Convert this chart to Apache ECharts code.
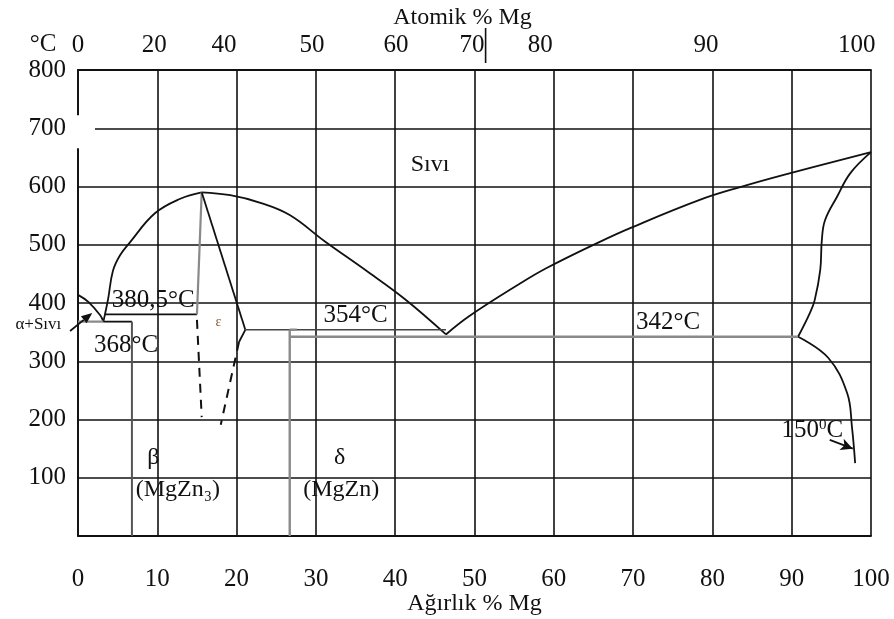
<!DOCTYPE html>
<html>
<head>
<meta charset="utf-8">
<script src="https://cdn.jsdelivr.net/npm/echarts@6/dist/echarts.min.js"></script>
<style>
html,body{margin:0;padding:0;background:#fff;}
#chart{width:894px;height:619px;}
</style>
</head>
<body>
<div id="chart"></div>
<script>
// Zn–Mg phase diagram: temperature (°C) vs weight % Mg, atomic % Mg on top

// top axis: atomic % labels and the weight % where each one sits
const atomicLabels = [0, 20, 40, 50, 60, 70, 80, 90, 100];
const atomicAtWeight = [0, 9.6, 18.4, 29.5, 40.1, 49.7, 58.3, 79.2, 98.2];
const atomicMarkWeight = 51.4;

// liquidus / solidus / solvus curves  [weight % Mg, °C]
const znLiquidus = [[0, 414], [1.3, 402], [2.8, 379], [3.2, 368]];
const mgzn2LeftLiquidus = [[3.2, 368], [3.4, 380.5], [3.8, 407], [4.4, 455], [5.3, 482], [6.6, 505], [9.7, 554], [12.9, 579], [15.6, 590]];
const mgzn2RightLiquidus = [[15.6, 590], [19.2, 585], [23, 572], [26.7, 551], [31.1, 506], [36.2, 457], [41.2, 407], [46.4, 346]];
const mgLiquidus = [[46.4, 346], [49.4, 378], [55.7, 433], [59.1, 460], [65.8, 505], [69.7, 529], [78.4, 577], [83.5, 599], [89, 620], [100, 659]];
const mgSolidus = [[100, 659], [97.4, 623], [95.7, 582], [94.2, 542], [93.8, 508], [93.6, 457], [92.9, 405], [92.3, 383], [90.8, 342]];
const mgSolvus = [[90.8, 342], [94.6, 306], [97, 245], [97.6, 187], [98, 125]];

// invariant lines and phase boundaries
const eutectic368Left = [[0, 368], [3.2, 368]];
const eutectic368Right = [[3.2, 368], [6.8, 368]];
const mg2zn11Line = [[6.8, 368], [6.8, 0]];
const peritectic380 = [[3.4, 380.5], [15, 380.5]];
const mgzn2Left = [[15, 380.5], [15.6, 590]];
const mgzn2Right = [[15.6, 590], [21.1, 354]];
const mgzn2RightLow = [[21.1, 354], [20.3, 333]];
const mgzn2DashLeft = [[15, 371], [15.6, 204]];
const mgzn2DashRight = [[20.3, 333], [18, 191]];
const eutectic354 = [[21.1, 354], [46.4, 354]];
const mgznLine = [[26.7, 354], [26.7, 0]];
const mgznCap = [[26.7, 354], [27.6, 354]];
const eutectic342 = [[26.7, 342], [90.8, 342]];

// arrows: [from, to]
const arrowAlpha = [[-1, 352], [1.8, 383]];
const arrow150 = [[94.8, 165], [97.7, 150]];

const FONT = '"Liberation Serif", "DejaVu Serif", serif';
const INK = '#111';
const GRAYLINE = '#8a8a8a';
const TICK_SIZE = 25;

function curve(data, opts) {
  return Object.assign({
    type: 'line', data: data, symbol: 'none', silent: true,
    lineStyle: { color: INK, width: 1.8 }, z: 5
  }, opts || {});
}

function label(pos, text, size, extra) {
  return {
    value: pos,
    label: Object.assign({
      show: true, formatter: text, position: 'inside', opacity: 1,
      fontFamily: FONT, fontSize: size, color: INK,
      textBorderWidth: 0, textBorderColor: 'transparent'
    }, extra || {})
  };
}

const chart = echarts.init(document.getElementById('chart'), null, { renderer: 'canvas' });

const option = {
  animation: false,
  backgroundColor: '#fff',
  grid: { left: 78, right: 23, top: 70, bottom: 83, containLabel: false, outerBoundsMode: 'none' },
  xAxis: [
    {
      type: 'value', position: 'bottom', min: 0, max: 100, interval: 10,
      name: 'Ağırlık % Mg', nameLocation: 'middle', nameGap: 56, nameMoveOverlap: false,
      nameTextStyle: { fontFamily: FONT, fontSize: 24, color: INK },
      axisLine: { show: true, lineStyle: { color: INK, width: 1.8 } },
      axisTick: { show: false },
      axisLabel: { fontFamily: FONT, fontSize: TICK_SIZE, color: INK, margin: 31 },
      splitLine: { show: true, lineStyle: { color: INK, width: 1.6 } }
    },
    {
      type: 'value', position: 'top', min: 0, max: 100,
      name: 'Atomik % Mg', nameLocation: 'middle', nameGap: 40, nameMoveOverlap: false,
      nameTextStyle: { fontFamily: FONT, fontSize: 24, color: INK, padding: [0, 24, 0, 0] },
      axisLine: { show: true, onZero: false, lineStyle: { color: INK, width: 1.8 } },
      axisTick: { show: false },
      axisLabel: {
        fontFamily: FONT, fontSize: TICK_SIZE, color: INK, margin: 12,
        customValues: atomicAtWeight,
        formatter: function (v) {
          let best = 0;
          atomicAtWeight.forEach(function (w, i) {
            if (Math.abs(w - v) < Math.abs(atomicAtWeight[best] - v)) best = i;
          });
          return String(atomicLabels[best]);
        }
      },
      splitLine: { show: false }
    }
  ],
  yAxis: {
    type: 'value', min: 0, max: 800, interval: 100,
    axisLine: { show: true, lineStyle: { color: INK, width: 1.8 } },
    axisTick: { show: false },
    axisLabel: {
      fontFamily: FONT, fontSize: TICK_SIZE, color: INK, margin: 12,
      formatter: function (v) { return v === 0 ? '' : String(v); }
    },
    splitLine: { show: true, lineStyle: { color: INK, width: 1.6 } }
  },
  series: [
    curve(znLiquidus, { smooth: 0.4 }),
    curve(mgzn2LeftLiquidus, { smooth: 0.4 }),
    curve(mgzn2RightLiquidus, { smooth: 0.4 }),
    curve(mgLiquidus, { smooth: 0.4 }),
    curve(mgSolidus, { smooth: 0.4 }),
    curve(mgSolvus, { smooth: 0.4 }),
    curve(eutectic368Left, { lineStyle: { color: GRAYLINE, width: 2.4 } }),
    curve(eutectic368Right),
    curve(mg2zn11Line, { lineStyle: { color: '#555', width: 2 } }),
    curve(peritectic380),
    curve(mgzn2Left, { lineStyle: { color: GRAYLINE, width: 2.2 } }),
    curve(mgzn2Right),
    curve(mgzn2RightLow),
    curve(mgzn2DashLeft, { lineStyle: { color: INK, width: 2, type: [9, 7] } }),
    curve(mgzn2DashRight, { lineStyle: { color: INK, width: 2, type: [9, 7] } }),
    curve(eutectic354, { lineStyle: { color: '#444', width: 1.5 } }),
    curve(mgznLine, { lineStyle: { color: GRAYLINE, width: 2.4 } }),
    curve(mgznCap, { lineStyle: { color: GRAYLINE, width: 2.4 } }),
    curve(eutectic342, { lineStyle: { color: GRAYLINE, width: 2.4 } }),
    {
      type: 'line', data: [], symbol: 'none', silent: true, clip: false, z: 6,
      markLine: {
        silent: true, animation: false,
        symbol: ['none', 'arrow'], symbolSize: [9, 12],
        label: { show: false },
        lineStyle: { color: INK, width: 1.8, type: 'solid' },
        data: [
          [{ coord: arrow150[0] }, { coord: arrow150[1] }]
        ]
      }
    },
    {
      type: 'scatter', symbolSize: 0, silent: true, clip: false, z: 7,
      itemStyle: { color: INK, opacity: 1 },
      data: [
        label([44.4, 637], 'Sıvı', 24),
        label([9.5, 405], '380,5°C', 25),
        label([-5, 363], 'α+Sıvı', 17),
        label([6.05, 328], '368°C', 25),
        label([9.5, 134], 'β', 24),
        label([12.6, 79], '(MgZn₃)', 24),
        label([17.7, 367], 'ε', 14, { color: '#8a5a2a' }),
        label([33, 134], 'δ', 24),
        label([33.2, 79], '(MgZn)', 24),
        label([35, 378], '354°C', 25),
        label([74.4, 367], '342°C', 25),
        label([92.6, 182], '{a|150}{s|0}{a|C}', 25, {
          rich: {
            a: { fontFamily: FONT, fontSize: 25, color: INK },
            s: { fontFamily: FONT, fontSize: 15, color: INK, verticalAlign: 'top', padding: [0, 0, 10, 0] }
          }
        })
      ]
    }
  ]
};

chart.setOption(option);

// decorations drawn in pixel space, anchored on the axes
const topY = chart.convertToPixel({ yAxisIndex: 0 }, 800);
const markX = chart.convertToPixel({ xAxisIndex: 0 }, atomicMarkWeight);
const leftX = chart.convertToPixel({ xAxisIndex: 0 }, 0);
const y700 = chart.convertToPixel({ yAxisIndex: 0 }, 700);

// arrow into the Zn-rich corner, its tail starts left of the axis
const a0 = chart.convertToPixel({ xAxisIndex: 0, yAxisIndex: 0 }, arrowAlpha[0]);
const a1 = chart.convertToPixel({ xAxisIndex: 0, yAxisIndex: 0 }, arrowAlpha[1]);
const ang = Math.atan2(a1[1] - a0[1], a1[0] - a0[0]);
const headLen = 11, headHalf = 4.5;
const hb = [a1[0] - headLen * Math.cos(ang), a1[1] - headLen * Math.sin(ang)];
const head = [
  a1,
  [hb[0] + headHalf * Math.sin(ang), hb[1] - headHalf * Math.cos(ang)],
  [hb[0] - headHalf * Math.sin(ang), hb[1] + headHalf * Math.cos(ang)]
];

chart.setOption({
  graphic: [
    {
      type: 'line', silent: true, z: 10,
      shape: { x1: markX, y1: topY - 7, x2: markX, y2: topY - 42 },
      style: { stroke: INK, lineWidth: 1.6 }
    },
    {
      type: 'rect', silent: true, z: 10,
      shape: { x: leftX - 4, y: y700 - 13, width: 21, height: 33 },
      style: { fill: '#fff' }
    },
    {
      type: 'text', silent: true, z: 10,
      x: leftX - 35, y: topY - 26,
      style: { text: '°C', fontFamily: FONT, fontSize: 25, fill: INK, align: 'center', verticalAlign: 'middle' }
    },
    {
      type: 'line', silent: true, z: 10,
      shape: { x1: a0[0], y1: a0[1], x2: hb[0], y2: hb[1] },
      style: { stroke: INK, lineWidth: 1.8 }
    },
    {
      type: 'polygon', silent: true, z: 10,
      shape: { points: head },
      style: { fill: INK }
    }
  ]
});
</script>
</body>
</html>
